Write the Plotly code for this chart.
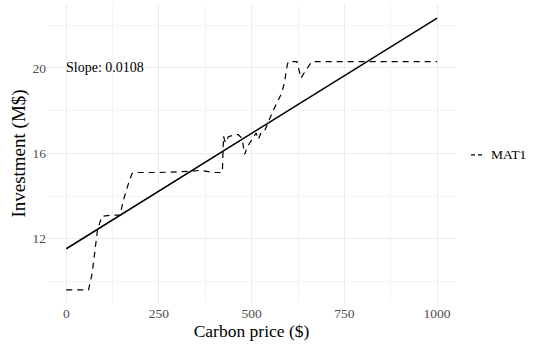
import numpy as np
import plotly.graph_objects as go

# Dashed series
price = [0, 60, 70, 78, 84, 96, 120, 145, 154, 168, 177, 181, 250, 330, 360, 400, 420,
         421, 424, 429, 437, 455, 464, 474, 481, 488, 496, 504, 512, 518, 526, 536,
         545, 559, 581, 588, 596, 599, 622, 633, 644, 662, 800, 1000]
invest = [9.6, 9.6, 10.4, 11.5, 12.4, 13.05, 13.1, 13.1, 13.8, 14.6, 15.04, 15.1, 15.1, 15.15, 15.2, 15.1, 15.1,
          15.15, 16.8, 16.5, 16.78, 16.87, 16.87, 16.7, 15.95, 16.3, 16.5, 16.73, 16.95, 16.65, 17.0, 17.1,
          17.49, 18.04, 18.82, 19.28, 20.14, 20.29, 20.29, 19.52, 19.83, 20.29, 20.29, 20.29]

fit_intercept = 11.53
fit_slope = 0.0108
fit_x = np.array([0, 1000])
fit_y = fit_intercept + fit_slope * fit_x

x_ticks = [0, 250, 500, 750, 1000]
y_ticks = [12, 16, 20]
series_name = "MAT1"
slope_label = "Slope: 0.0108"

FONT = "Liberation Serif"

fig = go.Figure()
fig.add_trace(go.Scatter(x=price, y=invest, mode="lines", name=series_name,
                         line=dict(color="black", width=1.2, dash="6px,5px"),
                         showlegend=False))
fig.add_trace(go.Scatter(x=fit_x, y=fit_y, mode="lines", name="fit",
                         line=dict(color="black", width=1.5), showlegend=False))

fig.update_layout(
    width=534, height=344,
    margin=dict(l=47, r=78, t=4, b=41),
    paper_bgcolor="white", plot_bgcolor="white",
    font=dict(family=FONT, color="black"),
    xaxis=dict(range=[-52, 1051], tickvals=x_ticks, showline=False, zeroline=False,
               showgrid=True, gridcolor="#ebebeb", gridwidth=1,
               tickfont=dict(size=13.5, color="#4d4d4d"),
               minor=dict(tickvals=[125, 375, 625, 875], showgrid=True, gridcolor="#f4f4f4", gridwidth=0.6),
               title=dict(text="Carbon price ($)", font=dict(size=17.5, color="black"), standoff=4)),
    yaxis=dict(range=[8.99, 22.99], tickvals=y_ticks, showline=False, zeroline=False,
               showgrid=True, gridcolor="#ebebeb", gridwidth=1,
               tickfont=dict(size=13.5, color="#4d4d4d"),
               minor=dict(tickvals=[10, 14, 18, 22], showgrid=True, gridcolor="#f4f4f4", gridwidth=0.6),
               title=dict(text="Investment (M$)", font=dict(size=19, color="black"), standoff=1)),
)

fig.add_annotation(x=0, y=20, xref="x", yref="y", text=slope_label, showarrow=False,
                   xanchor="left", yanchor="middle", xshift=-2,
                   font=dict(size=14, color="black", family=FONT))

# manual legend key
ly = (303.3 - 155) / 299.3
fig.add_shape(type="line", xref="paper", yref="paper",
              x0=1 + (471 - 456) / 409, x1=1 + (483 - 456) / 409, y0=ly, y1=ly,
              line=dict(color="black", width=1.2, dash="4px,3px"))
fig.add_annotation(x=1, y=ly, xref="paper", yref="paper", text=series_name, showarrow=False,
                   xanchor="left", yanchor="middle", xshift=33,
                   font=dict(size=13.5, color="black", family=FONT))

fig.write_html("out.html")
